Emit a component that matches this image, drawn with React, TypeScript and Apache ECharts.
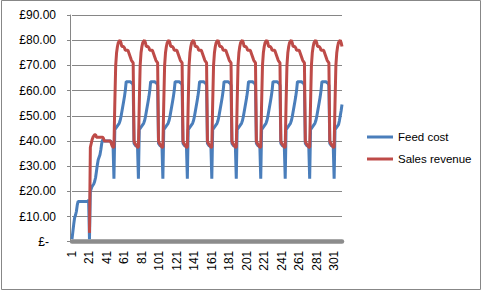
import React, { useEffect, useRef } from "react";
import * as echarts from "echarts";

// Day numbers on the category axis (1 .. 310)
const days: string[] = Array.from({ length: 310 }, (_, i) => String(i + 1));

// Feed cost (£), one value per day
const feedCost: number[] = [
  // days 1-48
  1, 4, 7, 9.5, 10.5, 12, 14.5, 16, 16, 16, 16, 16, 16, 16, 16, 16, 16, 16, 16, 16.5,
  1, 20, 21, 22, 22.5, 23, 24, 25.5, 28, 30.5, 32.5, 33.5, 34.5, 36.5, 39, 40.5, 40, 40, 40, 40,
  40, 40, 40, 40, 40, 39.5, 38.5, 38,
  // days 49-76
  25, 44.5, 45, 45.5, 46, 46.5, 47, 48, 49.5, 51.5, 53.5, 55.5, 57.5, 60, 63.5, 63.5, 63.5, 63.5, 63.5, 63.5, 63, 63, 62, 39, 38.5, 38, 38, 37.5,
  // days 77-104
  25, 44.5, 45, 45.5, 46, 46.5, 47, 48, 49.5, 51.5, 53.5, 55.5, 57.5, 60, 63.5, 63.5, 63.5, 63.5, 63.5, 63.5, 63, 63, 62, 39, 38.5, 38, 38, 37.5,
  // days 105-132
  25, 44.5, 45, 45.5, 46, 46.5, 47, 48, 49.5, 51.5, 53.5, 55.5, 57.5, 60, 63.5, 63.5, 63.5, 63.5, 63.5, 63.5, 63, 63, 62, 39, 38.5, 38, 38, 37.5,
  // days 133-160
  25, 44.5, 45, 45.5, 46, 46.5, 47, 48, 49.5, 51.5, 53.5, 55.5, 57.5, 60, 63.5, 63.5, 63.5, 63.5, 63.5, 63.5, 63, 63, 62, 39, 38.5, 38, 38, 37.5,
  // days 161-188
  25, 44.5, 45, 45.5, 46, 46.5, 47, 48, 49.5, 51.5, 53.5, 55.5, 57.5, 60, 63.5, 63.5, 63.5, 63.5, 63.5, 63.5, 63, 63, 62, 39, 38.5, 38, 38, 37.5,
  // days 189-216
  25, 44.5, 45, 45.5, 46, 46.5, 47, 48, 49.5, 51.5, 53.5, 55.5, 57.5, 60, 63.5, 63.5, 63.5, 63.5, 63.5, 63.5, 63, 63, 62, 39, 38.5, 38, 38, 37.5,
  // days 217-244
  25, 44.5, 45, 45.5, 46, 46.5, 47, 48, 49.5, 51.5, 53.5, 55.5, 57.5, 60, 63.5, 63.5, 63.5, 63.5, 63.5, 63.5, 63, 63, 62, 39, 38.5, 38, 38, 37.5,
  // days 245-272
  25, 44.5, 45, 45.5, 46, 46.5, 47, 48, 49.5, 51.5, 53.5, 55.5, 57.5, 60, 63.5, 63.5, 63.5, 63.5, 63.5, 63.5, 63, 63, 62, 39, 38.5, 38, 38, 37.5,
  // days 273-300
  25, 44.5, 45, 45.5, 46, 46.5, 47, 48, 49.5, 51.5, 53.5, 55.5, 57.5, 60, 63.5, 63.5, 63.5, 63.5, 63.5, 63.5, 63, 63, 62, 39, 38.5, 38, 38, 37.5,
  // days 301-310
  25, 44.5, 45, 45.5, 46, 46.5, 48, 50, 52, 54.5,
];

// Sales revenue (£), one value per day (none before day 21)
const salesRevenue: (number | null)[] = [
  // days 1-48
  null, null, null, null, null, null, null, null, null, null, null, null, null, null, null, null, null, null, null, null,
  3.5, 37.5, 39, 40.5, 41.5, 42, 42.5, 42.5, 41.5, 41.5, 41.5, 41.5, 41.5, 41.5, 41.5, 41.5, 41, 40, 40, 40,
  40, 40, 40, 40, 40, 39, 38, 37.5,
  // days 49-76
  37.5, 55, 70, 75, 77.5, 79, 79.5, 80, 79, 77.5, 77.5, 77.5, 77, 76, 76, 76, 76, 75, 74, 73, 72, 71.5, 71, 40, 39, 38.5, 38, 37.5,
  // days 77-104
  37.5, 55, 70, 75, 77.5, 79, 79.5, 80, 79, 77.5, 77.5, 77.5, 77, 76, 76, 76, 76, 75, 74, 73, 72, 71.5, 71, 40, 39, 38.5, 38, 37.5,
  // days 105-132
  37.5, 55, 70, 75, 77.5, 79, 79.5, 80, 79, 77.5, 77.5, 77.5, 77, 76, 76, 76, 76, 75, 74, 73, 72, 71.5, 71, 40, 39, 38.5, 38, 37.5,
  // days 133-160
  37.5, 55, 70, 75, 77.5, 79, 79.5, 80, 79, 77.5, 77.5, 77.5, 77, 76, 76, 76, 76, 75, 74, 73, 72, 71.5, 71, 40, 39, 38.5, 38, 37.5,
  // days 161-188
  37.5, 55, 70, 75, 77.5, 79, 79.5, 80, 79, 77.5, 77.5, 77.5, 77, 76, 76, 76, 76, 75, 74, 73, 72, 71.5, 71, 40, 39, 38.5, 38, 37.5,
  // days 189-216
  37.5, 55, 70, 75, 77.5, 79, 79.5, 80, 79, 77.5, 77.5, 77.5, 77, 76, 76, 76, 76, 75, 74, 73, 72, 71.5, 71, 40, 39, 38.5, 38, 37.5,
  // days 217-244
  37.5, 55, 70, 75, 77.5, 79, 79.5, 80, 79, 77.5, 77.5, 77.5, 77, 76, 76, 76, 76, 75, 74, 73, 72, 71.5, 71, 40, 39, 38.5, 38, 37.5,
  // days 245-272
  37.5, 55, 70, 75, 77.5, 79, 79.5, 80, 79, 77.5, 77.5, 77.5, 77, 76, 76, 76, 76, 75, 74, 73, 72, 71.5, 71, 40, 39, 38.5, 38, 37.5,
  // days 273-300
  37.5, 55, 70, 75, 77.5, 79, 79.5, 80, 79, 77.5, 77.5, 77.5, 77, 76, 76, 76, 76, 75, 74, 73, 72, 71.5, 71, 40, 39, 38.5, 38, 37.5,
  // days 301-310
  37.5, 55, 70, 75, 77.5, 79, 79.5, 80, 79, 77.5,
];

const seriesNames = ["Feed cost", "Sales revenue"];
const seriesColors = ["#4a7ebb", "#be4b48"];

const FONT = "'Liberation Sans', Arial, sans-serif";

export default function App() {
  const ref = useRef<HTMLDivElement>(null);

  useEffect(() => {
    document.body.style.margin = "0";
    if (!ref.current) return;
    const chart = echarts.init(ref.current, undefined, { renderer: "svg" });
    chart.setOption({
      animation: false,
      backgroundColor: "#ffffff",
      textStyle: { fontFamily: FONT },
      graphic: [
        {
          type: "rect",
          shape: { x: 1.5, y: 0.5, width: 479, height: 289 },
          style: { fill: "none", stroke: "#878787", lineWidth: 1 },
          silent: true,
        },
      ],
      grid: { left: 72, top: 15, right: 141, bottom: 49.3, containLabel: false },
      legend: {
        orient: "vertical",
        left: 362,
        top: 126,
        itemWidth: 26,
        itemHeight: 3,
        itemGap: 10,
        icon: "rect",
        textStyle: { fontSize: 11.5, color: "#000", fontFamily: FONT },
        data: seriesNames,
      },
      xAxis: {
        type: "category",
        data: days,
        boundaryGap: false,
        offset: 1,
        axisLine: { show: true, lineStyle: { color: "#8c8c8c", width: 4.5 } },
        axisTick: { show: false },
        splitLine: { show: false },
        axisLabel: {
          interval: 19,
          rotate: 90,
          margin: 8,
          fontSize: 12,
          color: "#000",
          fontFamily: FONT,
        },
      },
      yAxis: {
        type: "value",
        min: 0,
        max: 90,
        interval: 10,
        offset: 2,
        axisLine: { show: true, lineStyle: { color: "#868686", width: 1 } },
        axisTick: { show: true, length: 3, inside: false, lineStyle: { color: "#868686" } },
        splitLine: { show: true, lineStyle: { color: "#868686", width: 1 } },
        axisLabel: {
          margin: 14,
          fontSize: 12,
          color: "#000",
          fontFamily: FONT,
          formatter: (v: number) => (v === 0 ? "{z|£-}" : "£" + v.toFixed(2)),
          rich: {
            z: { fontSize: 12, color: "#000", fontFamily: FONT, padding: [0, 7, 0, 0] },
          },
        },
      },
      series: [
        {
          name: seriesNames[0],
          type: "line",
          data: feedCost,
          showSymbol: false,
          symbol: "none",
          color: seriesColors[0],
          lineStyle: { width: 3, color: seriesColors[0] },
        },
        {
          name: seriesNames[1],
          type: "line",
          data: salesRevenue,
          showSymbol: false,
          symbol: "none",
          color: seriesColors[1],
          lineStyle: { width: 3, color: seriesColors[1] },
        },
      ],
    });
    return () => chart.dispose();
  }, []);

  return <div ref={ref} style={{ width: 483, height: 291 }} />;
}
